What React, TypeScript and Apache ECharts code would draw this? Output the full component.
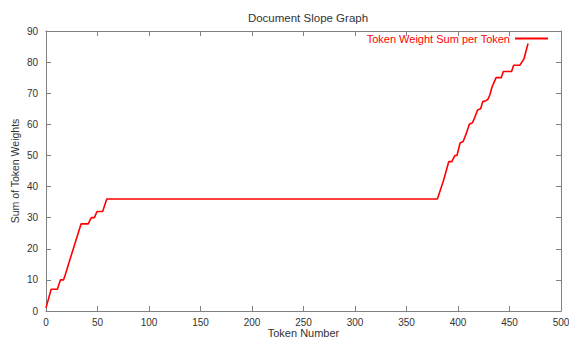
import React, { useEffect, useRef } from "react";
import * as echarts from "echarts";

const title = "Document Slope Graph";
const seriesName = "Token Weight Sum per Token";
const xLabel = "Token Number";
const yLabel = "Sum of Token Weights";

const tokenNumber = [
  0, 5, 11, 14, 17, 19, 34, 41, 44, 47, 49.5, 55, 59, 380,
  386, 391, 394, 397, 399, 402, 405, 408, 411, 414, 416, 419, 422, 424, 427,
  429, 431, 433, 435, 437, 442, 444, 452, 454, 460, 462, 464, 468,
];
const weightSum = [
  1, 7, 7, 10, 10, 12, 28, 28, 30, 30, 32, 32, 36, 36,
  42, 48, 48, 50, 50, 54, 54.5, 57, 60, 60.5, 62, 64.6, 65, 67.3, 67.6,
  68, 69.5, 72, 73.5, 75, 75, 77, 77, 79, 79, 80, 81, 86,
];

export default function App() {
  const ref = useRef<HTMLDivElement>(null);
  useEffect(() => {
    if (!ref.current) return;
    const chart = echarts.init(ref.current, undefined, { renderer: "svg" });
    const font = "Liberation Sans, Arial, sans-serif";
    const axisLine = { show: true, onZero: false, lineStyle: { color: "#808080", width: 1 } };
    const tick = { show: true, inside: true, length: 5, lineStyle: { color: "#808080" } };
    chart.setOption({
      animation: false,
      backgroundColor: "#fff",
      title: {
        text: title,
        left: 303,
        textAlign: "center",
        top: 7,
        textStyle: { fontFamily: font, fontSize: 11.5, fontWeight: "normal", color: "#333" },
      },
      legend: {
        data: [{ name: seriesName, icon: "rect" }],
        right: 16,
        top: 28,
        align: "right",
        itemWidth: 33,
        itemHeight: 2,
        itemGap: 5,
        textStyle: { fontFamily: font, fontSize: 11, color: "#ff0000" },
      },
      grid: { left: 46, right: 8, top: 31, bottom: 28, outerBoundsMode: "none", containLabel: false },
      xAxis: [
        {
          type: "value",
          min: 0,
          max: 500,
          interval: 50,
          name: xLabel,
          nameLocation: "middle",
          nameGap: 16,
          nameMoveOverlap: false,
          nameTextStyle: { fontFamily: font, fontSize: 11, color: "#333" },
          axisLine,
          axisTick: tick,
          axisLabel: { fontFamily: font, fontSize: 10, color: "#333", margin: 6 },
          splitLine: { show: false },
        },
        {
          type: "value",
          position: "top",
          min: 0,
          max: 500,
          interval: 50,
          axisLine,
          axisTick: tick,
          axisLabel: { show: false },
          splitLine: { show: false },
        },
      ],
      yAxis: [
        {
          type: "value",
          min: 0,
          max: 90,
          interval: 10,
          name: yLabel,
          nameLocation: "middle",
          nameGap: 26,
          nameMoveOverlap: false,
          nameTextStyle: { fontFamily: font, fontSize: 10.5, color: "#333" },
          axisLine,
          axisTick: tick,
          axisLabel: { fontFamily: font, fontSize: 10, color: "#333", margin: 8 },
          splitLine: { show: false },
        },
        {
          type: "value",
          position: "right",
          min: 0,
          max: 90,
          interval: 10,
          axisLine,
          axisTick: tick,
          axisLabel: { show: false },
          splitLine: { show: false },
        },
      ],
      series: [
        {
          name: seriesName,
          type: "line",
          data: tokenNumber.map((x, i) => [x, weightSum[i]]),
          symbol: "none",
          showSymbol: false,
          lineStyle: { color: "#ff0000", width: 1.6 },
          itemStyle: { color: "#ff0000" },
        },
      ],
    });
    return () => chart.dispose();
  }, []);
  return (
    <div
      ref={ref}
      style={{ position: "fixed", left: 0, top: 0, width: 569, height: 339 }}
    />
  );
}
